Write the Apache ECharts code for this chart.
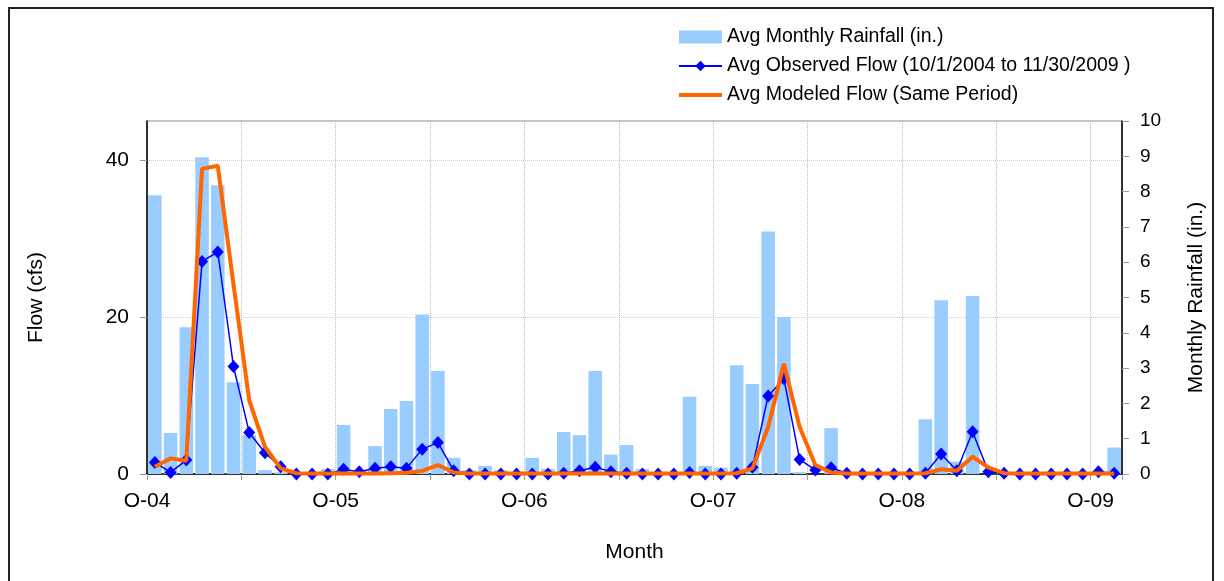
<!DOCTYPE html>
<html>
<head>
<meta charset="utf-8">
<script src="https://cdn.jsdelivr.net/npm/echarts@6/dist/echarts.min.js"></script>
<style>
html, body { margin: 0; padding: 0; background: #fff; overflow: hidden; }
.frame {
    position: absolute; left: 8px; top: 7px; width: 1206px; height: 600px;
    border: 2px solid #222; box-sizing: border-box;
}
#chart { position: absolute; left: 0; top: 0; width: 1224px; height: 581px; }
</style>
</head>
<body>
<div class="frame"></div>
<div id="chart"></div>
<script>
// months Oct 2004 .. Nov 2009
var months = [
    '2004-10','2004-11','2004-12','2005-01','2005-02','2005-03','2005-04','2005-05','2005-06','2005-07','2005-08','2005-09',
    '2005-10','2005-11','2005-12','2006-01','2006-02','2006-03','2006-04','2006-05','2006-06','2006-07','2006-08','2006-09',
    '2006-10','2006-11','2006-12','2007-01','2007-02','2007-03','2007-04','2007-05','2007-06','2007-07','2007-08','2007-09',
    '2007-10','2007-11','2007-12','2008-01','2008-02','2008-03','2008-04','2008-05','2008-06','2008-07','2008-08','2008-09',
    '2008-10','2008-11','2008-12','2009-01','2009-02','2009-03','2009-04','2009-05','2009-06','2009-07','2009-08','2009-09',
    '2009-10','2009-11'
];
var tickLabels = ['O-04','O-05','O-06','O-07','O-08','O-09'];

var rainfall = [
    7.9, 1.16, 4.16, 8.97, 8.18, 2.6, 1.1, 0.11, 0.05, 0, 0, 0.14,
    1.39, 0, 0.79, 1.84, 2.07, 4.52, 2.92, 0.46, 0.11, 0.23, 0.11, 0.02,
    0.46, 0.14, 1.19, 1.1, 2.92, 0.55, 0.82, 0.14, 0, 0, 2.19, 0.23,
    0.18, 3.08, 2.55, 6.87, 4.45, 0.05, 0, 1.3, 0, 0, 0, 0,
    0.05, 1.55, 4.92, 0.35, 5.04, 0, 0.05, 0, 0.05, 0, 0, 0,
    0, 0.75
];
var observed = [
    1.48, 0.2, 1.78, 27.1, 28.3, 13.7, 5.3, 2.7, 0.93, 0, 0, 0,
    0.59, 0.3, 0.72, 0.93, 0.72, 3.17, 4.0, 0.42, 0, 0, 0, 0,
    0, 0, 0.1, 0.42, 0.85, 0.3, 0.1, 0, 0, 0, 0.2, 0,
    0, 0.1, 0.85, 9.95, 12.15, 1.86, 0.5, 0.8, 0.1, 0, 0, 0,
    0, 0.1, 2.54, 0.42, 5.38, 0.3, 0.1, 0, 0, 0, 0, 0,
    0.3, 0.1
];
var modeled = [
    0.93, 1.99, 1.7, 38.9, 39.3, 24.2, 9.4, 3.47, 0.72, 0.1, 0.05, 0.05,
    0.05, 0.05, 0.05, 0.1, 0.15, 0.4, 1.14, 0.2, 0.05, 0.05, 0.05, 0.05,
    0.05, 0.05, 0.05, 0.05, 0.05, 0.05, 0.05, 0.05, 0.05, 0.05, 0.05, 0.05,
    0.05, 0.1, 0.72, 6.0, 14.05, 6.0, 1.14, 0.2, 0.05, 0.05, 0.05, 0.05,
    0.05, 0.1, 0.6, 0.42, 2.2, 0.85, 0.1, 0.05, 0.05, 0.05, 0.05, 0.05,
    0.05, 0.05
];

var font = 'Liberation Sans, Arial, sans-serif';
var chart = echarts.init(document.getElementById('chart'));
var option = {
    animation: false,
    textStyle: { fontFamily: font, color: '#000' },
    grid: {
        left: 147, right: 102, top: 121, bottom: 107,
        show: true, borderColor: '#888', borderWidth: 1
    },
    legend: {
        orient: 'vertical',
        left: 672, top: 22,
        itemWidth: 43, itemHeight: 13, itemGap: 9,
        textStyle: { fontSize: 19.5, color: '#000', fontFamily: font },
        data: [
            { name: 'Avg Monthly Rainfall (in.)', icon: 'rect' },
            { name: 'Avg Observed Flow (10/1/2004 to 11/30/2009 )', lineStyle: { width: 2 } },
            { name: 'Avg Modeled Flow (Same Period)', itemStyle: { opacity: 0 }, lineStyle: { width: 4 } }
        ]
    },
    xAxis: [
        {
            type: 'category',
            data: months,
            boundaryGap: true,
            show: false
        },
        {
            type: 'value',
            min: 0, max: 62, interval: 6,
            position: 'bottom',
            name: 'Month',
            nameLocation: 'middle',
            nameGap: 68,
            nameTextStyle: { fontSize: 21, color: '#000', fontFamily: font },
            axisLine: { show: true, lineStyle: { color: '#000', width: 1.5 } },
            axisTick: { show: true, length: 6, lineStyle: { color: '#999' } },
            axisLabel: {
                fontSize: 21, color: '#000', margin: 17,
                formatter: function (v) { return v % 12 === 0 ? tickLabels[v / 12] : ''; }
            },
            splitLine: { show: true, lineStyle: { color: '#bbb', type: 'dotted' } }
        }
    ],
    yAxis: [
        {
            type: 'value',
            min: 0, max: 45, interval: 20,
            name: 'Flow (cfs)',
            nameLocation: 'middle',
            nameGap: 100,
            nameTextStyle: { fontSize: 21, color: '#000', fontFamily: font },
            axisLine: { show: true, lineStyle: { color: '#000', width: 1.5 } },
            axisTick: { show: true, length: 7, lineStyle: { color: '#999' } },
            axisLabel: { fontSize: 21, color: '#000', margin: 18, showMaxLabel: false },
            splitLine: { show: true, lineStyle: { color: '#ccc', type: 'dotted' } }
        },
        {
            type: 'value',
            min: 0, max: 10, interval: 1,
            position: 'right',
            name: 'Monthly Rainfall (in.)',
            nameLocation: 'middle',
            nameGap: 64,
            nameTextStyle: { fontSize: 21, color: '#000', fontFamily: font },
            axisLine: { show: true, lineStyle: { color: '#000', width: 1.5 } },
            axisTick: { show: true, length: 7, lineStyle: { color: '#999' } },
            axisLabel: { fontSize: 19, color: '#000', margin: 18 },
            splitLine: { show: false }
        }
    ],
    series: [
        {
            name: 'Avg Monthly Rainfall (in.)',
            type: 'bar',
            xAxisIndex: 0, yAxisIndex: 1,
            data: rainfall,
            barCategoryGap: '14%',
            itemStyle: { color: '#99ccff' },
            z: 1
        },
        {
            name: 'Avg Observed Flow (10/1/2004 to 11/30/2009 )',
            type: 'line',
            xAxisIndex: 0, yAxisIndex: 0,
            data: observed,
            symbol: 'diamond',
            symbolSize: [12, 13],
            showAllSymbol: true,
            lineStyle: { color: '#0000ff', width: 1.5 },
            itemStyle: { color: '#0000ff' },
            z: 3
        },
        {
            name: 'Avg Modeled Flow (Same Period)',
            type: 'line',
            xAxisIndex: 0, yAxisIndex: 0,
            data: modeled,
            symbol: 'none',
            lineStyle: { color: '#ff6600', width: 4 },
            itemStyle: { color: '#ff6600' },
            z: 4
        }
    ]
};
chart.setOption(option);
</script>
</body>
</html>
